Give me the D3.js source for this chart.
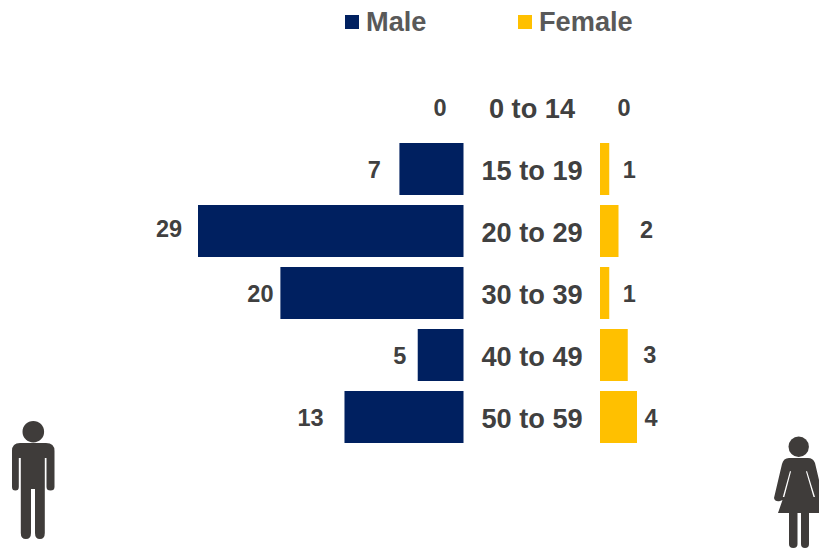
<!DOCTYPE html>
<html><head><meta charset="utf-8">
<script src="https://cdn.jsdelivr.net/npm/d3@7/dist/d3.min.js"></script>
<style>html,body{margin:0;padding:0;background:#fff;overflow:hidden}svg{display:block}text{font-family:"Liberation Sans",Arial,sans-serif;font-weight:700}</style>
</head><body><svg id="c" width="819" height="548"></svg>
<script>
const ageGroups = ["0 to 14","15 to 19","20 to 29","30 to 39","40 to 49","50 to 59"];
const maleValues = [0,7,29,20,5,13];
const femaleValues = [0,1,2,1,3,4];
const seriesNames = ["Male","Female"];
const seriesColors = ["#002060","#FFC000"];

const svg = d3.select("#c");
const y = d3.scaleBand().domain(ageGroups).range([76,448]).paddingInner(10/62).paddingOuter(5/62);
const xM = d3.scaleLinear().domain([0,29]).range([463.5,198]);
const xF = d3.scaleLinear().domain([0,4]).range([600,637]);

const maleLabelGap = [23.5,25,29,20,18,34];
const femaleLabelGap = [24,20,28,20,22,14];
const maleNudge = [0,0,-3,0,0,0];
const femaleNudge = [0,0,-2,0,-1,0];

svg.selectAll("rect.m").data(ageGroups).join("rect").attr("class","m")
  .attr("x",(d,i)=>xM(maleValues[i])).attr("y",d=>y(d))
  .attr("width",(d,i)=>xM(0)-xM(maleValues[i])).attr("height",y.bandwidth()).attr("fill",seriesColors[0]);
svg.selectAll("rect.f").data(ageGroups).join("rect").attr("class","f")
  .attr("x",xF(0)).attr("y",d=>y(d))
  .attr("width",(d,i)=>xF(femaleValues[i])-xF(0)).attr("height",y.bandwidth()).attr("fill",seriesColors[1]);

const cy = d=>y(d)+y.bandwidth()/2+1;
svg.selectAll("text.cat").data(ageGroups).join("text").attr("class","cat")
  .attr("x",532).attr("y",d=>cy(d)).attr("dy","0.35em").attr("text-anchor","middle")
  .attr("font-size",27.2).attr("fill","#404040").text(d=>d);
svg.selectAll("text.mv").data(ageGroups).join("text").attr("class","mv")
  .attr("x",(d,i)=>xM(maleValues[i])-maleLabelGap[i]).attr("y",(d,i)=>cy(d)+maleNudge[i])
  .attr("dy","0.35em").attr("text-anchor","middle").attr("font-size",23.5).attr("fill","#404040")
  .text((d,i)=>maleValues[i]);
svg.selectAll("text.fv").data(ageGroups).join("text").attr("class","fv")
  .attr("x",(d,i)=>xF(femaleValues[i])+femaleLabelGap[i]).attr("y",(d,i)=>cy(d)+femaleNudge[i])
  .attr("dy","0.35em").attr("text-anchor","middle").attr("font-size",23.5).attr("fill","#404040")
  .text((d,i)=>femaleValues[i]);

const legendX = [345,518], legendTextX = [366,539];
seriesNames.forEach((n,i)=>{
  svg.append("rect").attr("x",legendX[i]).attr("y",15).attr("width",14).attr("height",14).attr("fill",seriesColors[i]);
  svg.append("text").attr("x",legendTextX[i]).attr("y",31).attr("font-size",27.2).attr("fill","#595959").text(n);
});

const ink = "#3f3c3a";
const man = svg.append("g").attr("fill",ink);
man.append("circle").attr("cx",33.3).attr("cy",431.7).attr("r",10.8);
man.append("path").attr("d","M20 443 H46 Q54.5 443 54.5 451 V487 Q54.5 490.5 50.5 490.5 Q46.5 490.5 46.5 487 V458 H44.8 V533 Q44.8 539 39.900 539 Q35 539 35 533 V489 H31 V533 Q31 539 25.900 539 Q20.800 539 20.800 533 V458 H18.800 V487 Q18.800 490.500 15.400 490.500 Q12 490.500 12 487 V451 Q12 443 20 443Z");
const woman = svg.append("g").attr("fill",ink);
woman.append("circle").attr("cx",798.7).attr("cy",446.7).attr("r",10.2);
woman.append("path").attr("fill-rule","evenodd").attr("d","M789 458 H808 Q813 458 815 463 L823 497 L819 501 V513 H778 L782.500 500 L780 501 Q775 502 774 498 L782 464 Q783.500 458 789 458Z M790 471 L791 471.500 L784.300 497 L782.800 497Z M807 471 L806 471.500 L813.500 497 L815 497Z");
woman.append("path").attr("d","M789 513 H797.500 V544 Q797.500 548 793.250 548 Q789 548 789 544Z");
woman.append("path").attr("d","M801 513 H809 V544 Q809 548 805 548 Q801 548 801 544Z");
</script></body></html>
